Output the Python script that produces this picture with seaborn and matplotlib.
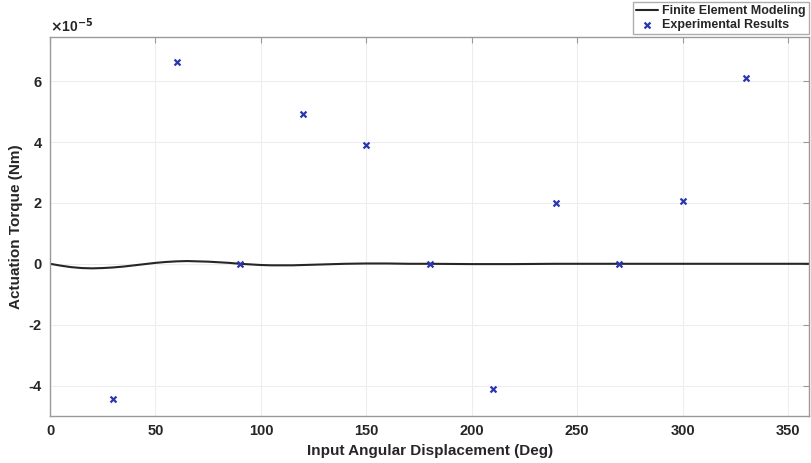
import matplotlib
matplotlib.use("Agg")
import matplotlib.pyplot as plt
import numpy as np
import pandas as pd
import seaborn as sns

# experimental points (x1e-5 Nm)
exp_angle = [30, 60, 90, 120, 150, 180, 210, 240, 270, 300, 330]
exp_torque = [-4.43, 6.62, 0.0, 4.92, 3.90, 0.0, -4.10, 2.00, 0.0, 2.07, 6.10]

# finite element curve (x1e-5 Nm)
fem_angle = [0, 5, 10, 15, 20, 25, 30, 35, 40, 45, 50, 55, 60, 65, 70, 75, 80, 85, 90,
             95, 100, 105, 110, 115, 120, 130, 140, 150, 160, 170, 180, 200, 220, 240,
             260, 280, 300, 320, 340, 360]
fem_torque = [0.0, -0.06, -0.11, -0.14, -0.15, -0.14, -0.12, -0.09, -0.05, -0.01, 0.03, 0.06, 0.08,
              0.09, 0.08, 0.07, 0.05, 0.03, 0.0, -0.02, -0.04, -0.05, -0.05, -0.05, -0.04, -0.02,
              0.0, 0.01, 0.01, 0.0, 0.0, -0.01, -0.01, 0.0, 0.0, 0.0, 0.0, 0.0, 0.0, 0.0]

fem = pd.DataFrame({"angle": fem_angle, "torque": np.array(fem_torque) * 1e-5})
exp = pd.DataFrame({"angle": exp_angle, "torque": np.array(exp_torque) * 1e-5})

sns.set_style("whitegrid")
plt.rcParams['font.family'] = ['Liberation Sans', 'DejaVu Sans']
plt.rcParams['font.weight'] = 'bold'

fig = plt.figure(figsize=(8.11, 4.63), dpi=100)
ax = fig.add_axes([0.0617, 0.1015, 0.936, 0.8186])

sns.lineplot(data=fem, x="angle", y="torque", ax=ax, color="#262626", linewidth=1.5,
             label="Finite Element Modeling")
sns.scatterplot(data=exp, x="angle", y="torque", ax=ax, marker="x", color="#2a35b0",
                s=18, linewidth=1.6, label="Experimental Results", zorder=3)

ax.set_xlim(0, 360)
ax.set_ylim(-5e-5, 7.45e-5)
ax.set_xticks(range(0, 351, 50))
ax.set_yticks(np.array([-4, -2, 0, 2, 4, 6]) * 1e-5)
ax.set_yticklabels(["-4", "-2", "0", "2", "4", "6"])
ax.grid(True, color="#ededed", linewidth=0.8)
for s in ax.spines.values():
    s.set_color("#9a9a9a")
    s.set_linewidth(1.0)
ax.tick_params(direction="in", length=4, color="#9a9a9a", labelsize=10.5,
               top=True, right=True, pad=6)
for lab in ax.get_xticklabels() + ax.get_yticklabels():
    lab.set_fontweight("bold")
ax.text(0.0, 1.005, r"$\times$10$^{-5}$", transform=ax.transAxes, fontsize=10,
        fontweight="bold", ha="left", va="bottom")

ax.set_xlabel("Input Angular Displacement (Deg)", fontsize=11, fontweight="bold")
ax.set_ylabel("Actuation Torque (Nm)", fontsize=11, fontweight="bold")

leg = ax.legend(loc="upper right", bbox_to_anchor=(0.9975, 0.996), bbox_transform=fig.transFigure,
                frameon=True, fancybox=False, fontsize=9, borderpad=0.25, labelspacing=0.15,
                handlelength=1.8, handletextpad=0.3, borderaxespad=0)
leg.get_frame().set_edgecolor("#9a9a9a")
for t in leg.get_texts():
    t.set_fontweight("bold")

plt.savefig("out.png", dpi=100)
